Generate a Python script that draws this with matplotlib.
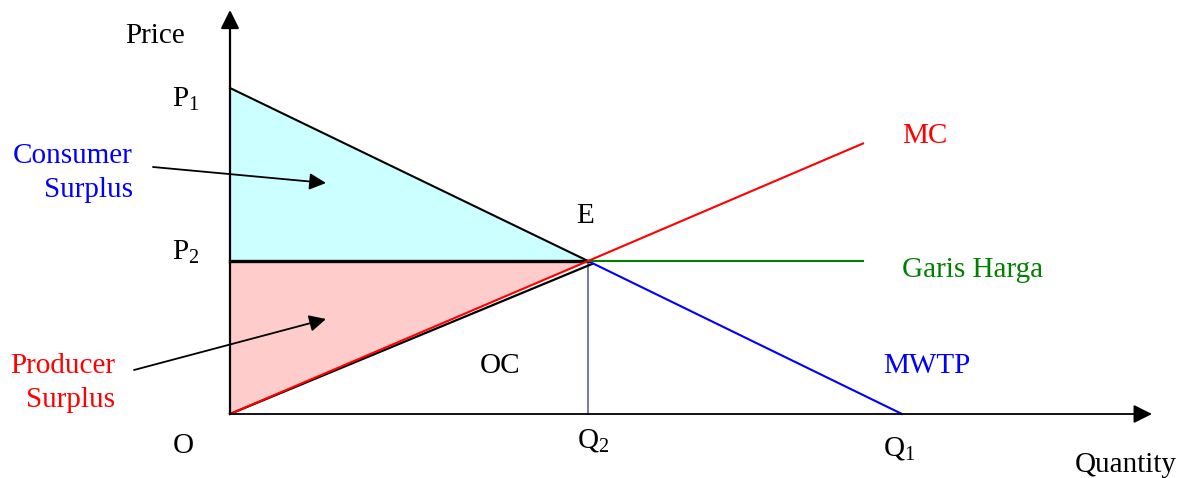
import numpy as np
import matplotlib.pyplot as plt

# Font: Times-like serif
plt.rcParams['font.family'] = ['Liberation Serif', 'DejaVu Serif']
plt.rcParams['mathtext.fontset'] = 'custom'
plt.rcParams['mathtext.rm'] = 'Liberation Serif'
plt.rcParams['mathtext.it'] = 'Liberation Serif'

# Data (arbitrary units, origin at O)
P1 = 326          # price where MWTP meets the price axis
P2 = 153          # equilibrium price
Q2 = 358          # equilibrium quantity
Q1 = 672          # quantity where MWTP meets the quantity axis
Q_END = 633       # end of MC and price line
mwtp_q = [0, Q2, Q1]
mwtp_p = [P1, P2, 0]
mc_q = [0, Q_END]
mc_p = [0, P2 / Q2 * Q_END]
price_q = [0, Q_END]
price_p = [P2, P2]

fs = 21

fig = plt.figure(figsize=(11.89, 4.78), dpi=100)
ax = fig.add_axes([0, 0, 1, 1])
ax.set_xlim(-230, 959)
ax.set_ylim(-64, 414)
ax.axis('off')

# Surplus areas
qq = np.array([0, Q2])
ax.fill_between(qq, np.interp(qq, mwtp_q, mwtp_p), P2, color='#CCFFFF', lw=0, zorder=1)
ax.fill_between(qq, P2, np.interp(qq, mc_q, mc_p), color='#FFCCCC', lw=0, zorder=1)

# Axes with arrows
ax.annotate('', xy=(0, 404), xytext=(0, 0),
            arrowprops=dict(arrowstyle='-|>', mutation_scale=28, lw=1.6, color='black',
                            shrinkA=0, shrinkB=0), zorder=5)
ax.annotate('', xy=(922, 0), xytext=(0, 0),
            arrowprops=dict(arrowstyle='-|>', mutation_scale=28, lw=1.3, color='black',
                            shrinkA=0, shrinkB=0), zorder=5)

# OC line (black) just below MC
ax.plot([0, Q2 + 4], [0, P2 - 3], color='black', lw=1.6, zorder=3)
# MC
ax.plot(mc_q, mc_p, color='red', lw=1.5, zorder=4)
# MWTP: black part up to E, blue after
ax.plot(mwtp_q[:2], mwtp_p[:2], color='black', lw=1.5, zorder=3)
ax.plot(mwtp_q[1:], mwtp_p[1:], color='blue', lw=1.5, zorder=3)
# price line: thick black up to E, green after
ax.plot([0, Q2], price_p, color='black', lw=2.4, zorder=3)
ax.plot([Q2, Q_END], price_p, color='green', lw=1.5, zorder=3)
# drop line at Q2
ax.plot([Q2, Q2], [0, P2], color='#7777AA', lw=1.4, zorder=2)

# Labels
ax.text(-105, 371, 'Price', fontsize=fs, va='baseline')
ax.text(-58, 307, r'P$_{\mathrm{1}}$', fontsize=fs, va='baseline')
ax.text(-58, 154, r'P$_{\mathrm{2}}$', fontsize=fs, va='baseline')
ax.text(-57, -39, 'O', fontsize=fs, va='baseline')
ax.text(Q2 - 11, -34, r'Q$_{\mathrm{2}}$', fontsize=fs, va='baseline')
ax.text(Q1 - 19, -41, r'Q$_{\mathrm{1}}$', fontsize=fs, va='baseline')
ax.text(845, -58, 'Quantity', fontsize=fs, va='baseline')
ax.text(Q2 - 3, 191, 'E', fontsize=fs, ha='center', va='baseline')
ax.text(250, 41, 'OC', fontsize=fs, va='baseline')
ax.text(672, 271, 'MC', fontsize=fs, color='red', va='baseline')
ax.text(672, 137, 'Garis Harga', fontsize=fs, color='green', va='baseline')
ax.text(653, 41, 'MWTP', fontsize=fs, color='blue', va='baseline')

ax.text(-97, 251, 'Consumer', fontsize=fs, color='blue', ha='right', va='baseline')
ax.text(-97, 217, 'Surplus', fontsize=fs, color='blue', ha='right', va='baseline')
ax.text(-115, 41, 'Producer', fontsize=fs, color='red', ha='right', va='baseline')
ax.text(-115, 7, 'Surplus', fontsize=fs, color='red', ha='right', va='baseline')

# pointer arrows
ax.annotate('', xy=(96, 231), xytext=(-77, 247),
            arrowprops=dict(arrowstyle='-|>', mutation_scale=25, lw=1.3, color='black',
                            shrinkA=0, shrinkB=0), zorder=6)
ax.annotate('', xy=(96, 95), xytext=(-96, 44),
            arrowprops=dict(arrowstyle='-|>', mutation_scale=25, lw=1.3, color='black',
                            shrinkA=0, shrinkB=0), zorder=6)

fig.savefig('out.png', dpi=100)
